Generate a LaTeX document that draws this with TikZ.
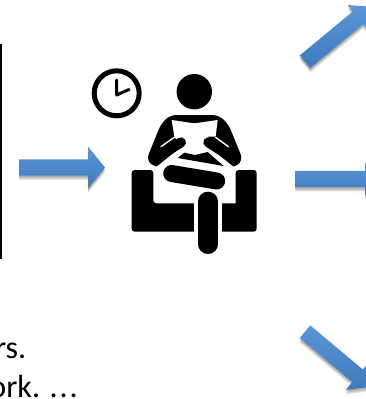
\documentclass[tikz,border=0pt]{standalone}
\usepackage{fontspec}
\setmainfont{Carlito}
\definecolor{arrowtop}{HTML}{5A96D6}
\definecolor{arrowbot}{HTML}{3F7ABD}
\newcommand{\arrowpath}[6]{(#1,#2-8.2) -- ++(#4,0) -- (#1+#4,#2-#5) -- (#1+#4+#6,#2) -- (#1+#4,#2+#5) -- (#1+#4,#2+8.2) -- (#1,#2+8.2) -- cycle}
\newcommand{\blockarrow}[6]{% x, y, angle, shaft length, head half, head length
  \foreach \sh in {1.5,2.5,3.5,4.5}{
    \fill[black,opacity=0.09,shift={(0,\sh)},rotate around={-#3:(#1,#2)}] \arrowpath{#1}{#2}{#3}{#4}{#5}{#6};
  }
  \path[rotate around={-#3:(#1,#2)},top color=arrowtop,bottom color=arrowbot] \arrowpath{#1}{#2}{#3}{#4}{#5}{#6};
}
\tikzset{
  txt/.style={font=\fontsize{32}{32}\selectfont,inner sep=0pt,anchor=base east,text=black},
  ink/.style={fill=black,draw=none},
  slit/.style={draw=white,line width=1.4pt,line cap=round},
  limb/.style={draw=black,line cap=round},
  halo/.style={draw=white,line cap=round}
}
\begin{document}
\begin{tikzpicture}[x=1pt,y=-1pt]
\useasboundingbox (0,0) rectangle (366,399);
\clip (0,0) rectangle (366,399);
\fill[white] (0,0) rectangle (366,399);
% frame edge
\draw[black,line width=2.5pt] (0.4,44) -- (0.4,259);
% arrows
\blockarrow{19}{167.5}{0}{69}{21}{17}
\blockarrow{295}{179}{0}{70}{16}{17}
\blockarrow{305}{61.7}{-39.6}{69}{16.5}{17}
\blockarrow{305}{331.7}{40}{68.6}{18.5}{17}
% clock
\draw[black,line width=5pt] (116.7,93.3) circle (22.5);
\draw[black,line width=3pt,line cap=round,line join=round] (116.7,80) -- (116.7,95) -- (129,89.5);
% head
\fill[black] (194.3,91.7) circle (17.7);
% torso
\begin{scope}[shift={(145,110)},x=0.3333pt,y=-0.3333pt]
  \path[ink,rounded corners=6pt] (75,15) -- (220,15) -- (250,42) -- (294,150) -- (270,172) -- (30,172) -- (4,150) -- (48,42) -- cycle;
  \fill[white] (80,30) -- (148,40) -- (218,30) -- (212,80) -- (190,80) -- (190,110) -- (290,190) -- (10,190) -- (110,110) -- (88,80) -- cycle;
  \draw[limb,line width=10pt] (28,148) -- (108,97);
  \draw[limb,line width=10pt] (270,148) -- (190,97);
  \draw[slit] (48,110) -- (88,82);
  \draw[slit] (250,110) -- (212,82);
  \fill[black] (98,144) -- (118,128) -- (150,135) -- (188,126) -- (236,168) -- cycle;
\end{scope}
% armchair
\path[ink,rounded corners=3pt] (131.7,170) -- (153.3,170) -- (153.3,203.3) [sharp corners] -- (235.7,203.3) [rounded corners=3pt] -- (235.7,170) -- (256.7,170) -- (256.7,231.7) -- (131.7,231.7) -- cycle;
% thigh
\draw[halo,line width=20pt] (171.7,173.5) -- (216.7,181);
\draw[limb,line width=17pt] (171.7,173.5) -- (216.7,181);
% leg
\draw[halo,line width=28pt,line cap=butt] (208,200) -- (208,232);
\draw[halo,line width=23pt] (208,201.3) -- (208,244.3);
\draw[limb,line width=19.3pt] (208,201.3) -- (208,244.3);
% text
\node[txt] (line1) at (26.5,358) {hours.};
\node[txt] (line2) at (78,397) {work. {\addfontfeature{LetterSpace=6}...}};
\end{tikzpicture}
\end{document}
